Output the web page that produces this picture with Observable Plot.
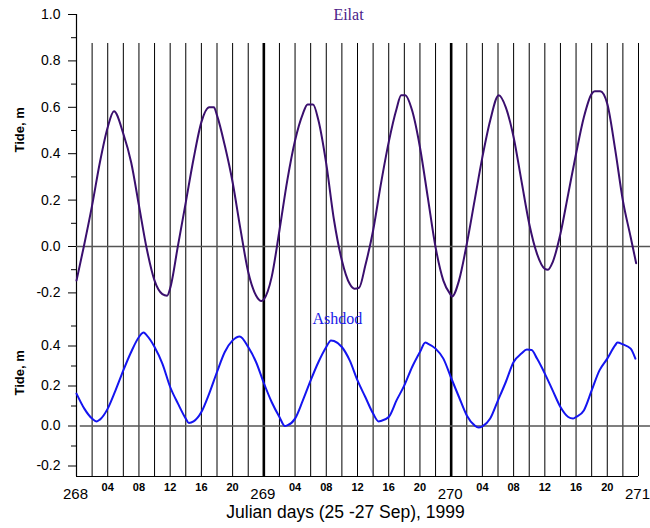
<!DOCTYPE html>
<html><head><meta charset="utf-8">
<script src="https://cdn.jsdelivr.net/npm/d3@7"></script>
<script src="https://cdn.jsdelivr.net/npm/@observablehq/plot@0.6"></script>
<style>
body{margin:0;background:#fff}
#chart{position:relative;width:650px;height:528px}
#chart svg{position:absolute;left:0;top:0}
</style>
</head><body><div id="chart"></div>
<script>
// Hours since start of Julian day 268 (1999) and tide heights (m)
const eilatHours = [0,0.94,2,3,4,4.8,6,7,8,9,10,11,11.6,12,13,14,15,16,17,17.6,18,19,20,21,22,23,23.7,24,25,26,27,28,29,29.6,30.3,31,32,33,34,35,35.6,36.2,37,38,39,40,41,41.6,42.1,43,44,45,46,47,48,48.1,49,50,51,52,53,54.1,55,56,57,58,59,60,60.4,61,62,63,64,65,66,66.4,67.1,68,69,70,71,71.7];
const eilatTide  = [-0.147,0.0,0.177,0.363,0.514,0.583,0.486,0.363,0.177,-0.01,-0.147,-0.205,-0.212,-0.18,0.004,0.19,0.378,0.536,0.6,0.6,0.565,0.435,0.277,0.076,-0.11,-0.211,-0.235,-0.228,-0.132,0.069,0.284,0.457,0.572,0.612,0.612,0.543,0.356,0.112,-0.06,-0.161,-0.182,-0.178,-0.082,0.069,0.27,0.45,0.593,0.652,0.652,0.586,0.428,0.213,-0.003,-0.147,-0.211,-0.216,-0.147,0.011,0.198,0.385,0.543,0.652,0.6,0.471,0.284,0.098,-0.032,-0.096,-0.1,-0.068,0.055,0.227,0.4,0.557,0.658,0.669,0.669,0.615,0.421,0.198,0.04,-0.072];

const ashdodHours = [0,1,2,2.6,3,4,5,6,7,8,8.6,9,10,11,12,13,14,14.4,15,16,17,18,19,20,20.9,22,23,24,25,26,26.7,27,28,29,30,31,32,32.6,33,34,35,36,37,38,38.7,39,40,41,42,43,44,44.7,45,46,47,48,49,50,51,51.5,52,53,54,55,56,57,57.7,58.3,59,60,61,62,63,63.6,64,65,66,67,68,69,69.3,70,71,71.6];
const ashdodTide  = [0.162,0.087,0.037,0.023,0.032,0.087,0.178,0.278,0.37,0.445,0.467,0.453,0.395,0.312,0.195,0.112,0.037,0.015,0.023,0.07,0.162,0.27,0.37,0.428,0.448,0.395,0.32,0.215,0.12,0.045,0.0,0.003,0.037,0.128,0.228,0.32,0.395,0.428,0.425,0.395,0.328,0.228,0.145,0.062,0.023,0.025,0.045,0.128,0.203,0.295,0.37,0.417,0.412,0.387,0.337,0.24,0.145,0.053,0.003,-0.008,-0.002,0.037,0.128,0.22,0.32,0.362,0.382,0.38,0.337,0.262,0.178,0.095,0.045,0.037,0.045,0.078,0.178,0.278,0.337,0.403,0.417,0.408,0.387,0.337];

const days = [268, 269, 270, 271];
const hourLabels = ["04", "08", "12", "16", "20"];
const eilatMajor = [-0.2, 0, 0.2, 0.4, 0.6, 0.8, 1.0];
const eilatMinor = [-0.1, 0.1, 0.3, 0.5, 0.7, 0.9];
const ashdodMajor = [-0.2, 0, 0.2, 0.4];
const ashdodMinor = [-0.1, 0.1, 0.3, 0.5];

const startDay = 268;
const eilat = eilatHours.map((h, i) => ({t: startDay + h / 24, v: eilatTide[i]}));
const ashdod = ashdodHours.map((h, i) => ({t: startDay + h / 24, v: ashdodTide[i]}));

const gridTimes = d3.range(1, 37).map(k => startDay + k * 2 / 24).filter(t => Math.abs(t - Math.round(t)) > 1e-6 || Math.round(t) === 271);
const thickDays = [269, 270];
const hourTicks = [];
days.slice(0, 3).forEach(d => hourLabels.forEach(l => hourTicks.push(d + (+l) / 24)));

const eilatDomain = [-0.99138, 1.0];
const ashdodDomain = [-0.2525, 2.0575];
const gridTop = 0.875;
const xRightEnd = 271.064;

const FONT = "'Liberation Sans', Arial, sans-serif";
const SERIF = "'Liberation Serif', 'Times New Roman', serif";
const common = {
  width: 650, height: 528,
  marginLeft: 76, marginRight: 12, marginTop: 14, marginBottom: 52,
  style: {fontFamily: FONT, background: "transparent", overflow: "visible", color: "#000"}
};

const plotA = Plot.plot({
  ...common,
  x: {domain: [268, 271]},
  y: {domain: eilatDomain},
  marks: [
    Plot.ruleX(gridTimes, {y1: gridTop, y2: eilatDomain[0], stroke: "#000", strokeWidth: 1}),
    Plot.ruleX(thickDays, {y1: gridTop, y2: eilatDomain[0], stroke: "#000", strokeWidth: 2.6}),
    Plot.ruleX([268], {y1: 1.0, y2: eilatDomain[0], stroke: "#000", strokeWidth: 1.2}),
    Plot.ruleY([eilatDomain[0]], {x1: 268, x2: 271, stroke: "#000", strokeWidth: 1.2}),
    Plot.ruleY([0], {x1: 268, x2: xRightEnd, stroke: "#555", strokeWidth: 1.5}),
    Plot.line(eilat, {x: "t", y: "v", stroke: "#3a0f6e", strokeWidth: 2, curve: "monotone-x"}),
    Plot.axisY({ticks: eilatMajor, tickSize: 8, tickPadding: 8, tickFormat: d => d.toFixed(1), fontSize: 14, label: null}),
    Plot.axisY({ticks: eilatMinor, tickSize: 5, tickFormat: () => "", label: null}),
    Plot.axisX({ticks: hourTicks, tickSize: 0, tickPadding: 7, tickFormat: (d, i) => hourLabels[i % 5], fontSize: 11, fontWeight: "bold", label: null}),
    Plot.axisX({ticks: days, tickSize: 0, tickPadding: 12, tickFormat: d => String(d), fontSize: 15, dx: -1, label: null}),
    Plot.text([{y: 0.405, s: "Tide, m"}], {y: "y", text: "s", frameAnchor: "left", dx: -57, rotate: -90, fontWeight: "bold", fontSize: 13}),
    Plot.text([{x: 269.452, y: 0.975, s: "Eilat"}], {x: "x", y: "y", text: "s", lineAnchor: "bottom", fontFamily: SERIF, fontSize: 16, fill: "#4b2088"}),
    Plot.text([{x: 269.436, s: "Julian days (25 -27 Sep), 1999"}], {x: "x", text: "s", frameAnchor: "bottom", lineAnchor: "bottom", dy: 41, fontSize: 17.5})
  ]
});

const plotB = Plot.plot({
  ...common,
  x: {domain: [268, 271], axis: null},
  y: {domain: ashdodDomain},
  marks: [
    Plot.ruleY([0], {x1: 268.02, x2: xRightEnd, stroke: "#555", strokeWidth: 1.5}),
    Plot.line(ashdod, {x: "t", y: "v", stroke: "#1414f0", strokeWidth: 2, curve: "monotone-x"}),
    Plot.axisY({ticks: ashdodMajor, tickSize: 8, tickPadding: 8, tickFormat: d => d.toFixed(1), fontSize: 14, label: null}),
    Plot.axisY({ticks: ashdodMinor, tickSize: 5, tickFormat: () => "", label: null}),
    Plot.text([{y: 0.1525, s: "Tide, m"}], {y: "y", text: "s", frameAnchor: "left", dx: -57, rotate: -90, fontWeight: "bold", fontSize: 13}),
    Plot.text([{x: 269.393, y: 0.5125, s: "Ashdod"}], {x: "x", y: "y", text: "s", lineAnchor: "bottom", fontFamily: SERIF, fontSize: 16, fill: "#1a1ae8"})
  ]
});

const chart = document.getElementById("chart");
chart.appendChild(plotA);
chart.appendChild(plotB);
</script></body></html>
